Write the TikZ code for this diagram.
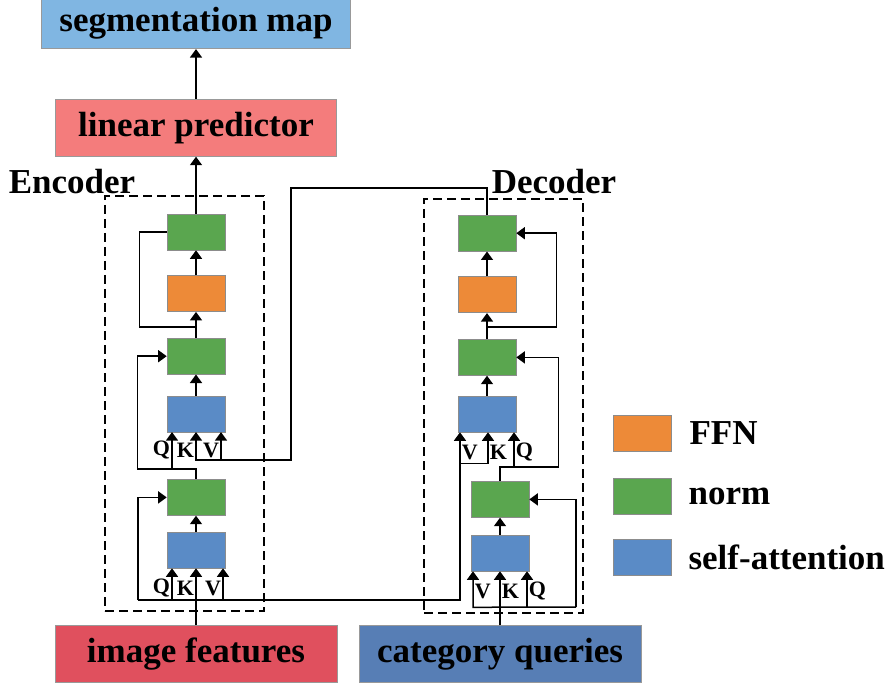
\documentclass[tikz,border=0pt]{standalone}
\usepackage{fontspec}
\setmainfont{Liberation Serif}
\usepackage{tikz}
\usetikzlibrary{arrows.meta, positioning, fit}
\definecolor{normgreen}{HTML}{5AA64F}
\definecolor{ffnorange}{HTML}{ED8A38}
\definecolor{attnblue}{HTML}{5A8BC6}
\definecolor{segblue}{HTML}{80B6E2}
\definecolor{predred}{HTML}{F47C7C}
\definecolor{imgred}{HTML}{E0505E}
\definecolor{catblue}{HTML}{577EB5}

\begin{document}
\begin{tikzpicture}[x=1pt, y=1pt, line width=1.5pt, >={Triangle[length=8.5pt,width=12pt]}]
    \tikzstyle{blk} = [draw=black!45, line width=0.6pt, minimum width=58pt,
    minimum height=36pt, inner sep=0pt]
    \tikzstyle{normbox} = [blk, fill=normgreen]
    \tikzstyle{ffnbox} = [blk, fill=ffnorange]
    \tikzstyle{attnbox} = [blk, fill=attnblue]
    \tikzstyle{bigbox} = [draw=black!40, line width=0.6pt, minimum width=282pt,
    minimum height=57pt, inner sep=0pt, font=\fontsize{35}{42}\selectfont\bfseries]
    \tikzstyle{title} = [inner sep=0pt, font=\fontsize{35}{42}\selectfont\bfseries]
    \tikzstyle{qkv} = [inner sep=1.2pt, font=\fontsize{22}{26}\selectfont\bfseries]
    \tikzstyle{dashbox} = [draw, line width=1.8pt, dash pattern=on 9pt off 5pt,
    inner sep=0pt]
    \useasboundingbox (0,0) rectangle (890,686);

    % encoder
    \node [attnbox] at (196,136) (encattna) {};
    \node [normbox, above=16pt of encattna] (encnorma) {};
    \node [attnbox, above=47pt of encnorma] (encattnb) {};
    \node [normbox, above=21pt of encattnb] (encnormb) {};
    \node [ffnbox, above=26pt of encnormb] (encffn) {};
    \node [normbox, above=25pt of encffn] (encnormc) {};
    \node [bigbox, fill=predred, minimum width=281pt, above=57pt of encnormc] (linpred) {linear predictor};
    \node [bigbox, fill=segblue, minimum width=309pt, minimum height=52pt,
    above=50pt of linpred] (segmap) {segmentation map};
    \node [bigbox, fill=imgred, below=57pt of encattna] (imgfeat) {image features};
    \node [dashbox, fit={(105,75) (264,490)}] (encbox) {};
    \node [title, anchor=base] at (72,492) (enclabel) {Encoder};

    % decoder
    \node [attnbox] at (500,133) (decattna) {};
    \node [normbox, above=17pt of decattna] (decnorma) {};
    \node [attnbox] at (487,272) (decattnb) {};
    \node [normbox, above=20pt of decattnb] (decnormb) {};
    \node [ffnbox, above=26pt of decnormb] (decffn) {};
    \node [normbox, above=25pt of decffn] (decnormc) {};
    \node [bigbox, fill=catblue, below=54pt of decattna] (catquery) {category queries};
    \node [dashbox, fit={(424,73) (583,487)}] (decbox) {};
    \node [title, anchor=base] at (554,492) (declabel) {Decoder};

    % legend
    \node [ffnbox] at (642.5,252.5) (legffn) {};
    \node [normbox, below=26pt of legffn] (legnorm) {};
    \node [attnbox, below=25pt of legnorm] (legattn) {};
    \node [title, right=17pt of legffn] (legffntxt) {FFN};
    \node [title, right=16pt of legnorm] (legnormtxt) {norm};
    \node [title, right=16pt of legattn] (legattntxt) {self-attention};

    \coordinate (xtop) at (291,498);
    \coordinate (ebot) at (138,86);
    \coordinate (dbot) at (460,86);
    \coordinate (dbr) at (576,79);

    % encoder flow
    \draw[->] (imgfeat) -- (encattna);
    \draw[->] (encattna) -- (encnorma);
    \draw[->] (encattnb) -- (encnormb);
    \draw[->] (encnormb) -- (encffn);
    \draw[->] (encffn) -- (encnormc);
    \draw[->] (encnormc) -- (linpred);
    \draw[->] (linpred) -- (segmap);
    \draw ([yshift=-15pt]encffn.south) -| ([xshift=-27pt]encnormc.west) -- (encnormc.west);
    \draw[->] (encnorma.north) -- ++(0,10) -| ([xshift=-29pt]encnormb.west) -- (encnormb.west);
    \draw[<-] ([xshift=-24pt]encattnb.south) -- ++(0,-37);
    \draw[<-] ([xshift=25pt]encattnb.south) -- ++(0,-28);
    \draw[->] (decnormc.north) |- (xtop) |- ([yshift=-28pt]encattnb.south) -- (encattnb.south);
    \draw[->] (ebot) |- (encnorma.west);
    \draw[<-] ([xshift=-24pt]encattna.south) -- ++(0,-32);
    \draw[<-] ([xshift=27pt]encattna.south) -- ++(0,-32);
    \draw[->] (ebot) -- (dbot) -- (dbot |- decattnb.south);

    % decoder flow
    \draw[->] (catquery) -- (decattna);
    \draw[->] (decattna) -- (decnorma);
    \draw[->] (decattnb) -- (decnormb);
    \draw[->] (decnormb) -- (decffn);
    \draw[->] (decffn) -- (decnormc);
    \draw[->] ([yshift=-14pt]decffn.south) -| ([xshift=40pt]decnormc.east) -- (decnormc.east);
    \draw[->] (decnorma.north) -- ++(0,14) -| ([xshift=42pt]decnormb.east) -- (decnormb.east);
    \draw[<-] ([xshift=27pt]decattnb.south) -- ++(0,-36);
    \draw[<-] ([xshift=1pt]decattnb.south) -- ++(0,-31) -- ++(-28,0);
    \draw[->] (dbr) |- (decnorma.east);
    \draw[<-] ([xshift=-27pt]decattna.south) -- ++(0,-36) -- (dbr);
    \draw[<-] ([xshift=27pt]decattna.south) -- ++(0,-36);

    % Q K V labels
    \foreach \l/\dx in {Q/-24, K/0, V/25}
        \node [qkv, anchor=east] at ([xshift=\dx pt, yshift=-18pt]encattnb.south) (eb\l) {\l};
    \foreach \l/\dx in {Q/-24, K/0, V/27}
        \node [qkv, anchor=east] at ([xshift=\dx pt, yshift=-20pt]encattna.south) (ea\l) {\l};
    \foreach \l/\dx in {V/-27, K/1, Q/27}
        \node [qkv, anchor=west] at ([xshift=\dx pt, yshift=-20pt]decattnb.south) (db\l) {\l};
    \foreach \l/\dx in {V/-27, K/0, Q/27}
        \node [qkv, anchor=west] at ([xshift=\dx pt, yshift=-20pt]decattna.south) (da\l) {\l};
\end{tikzpicture}
\end{document}
